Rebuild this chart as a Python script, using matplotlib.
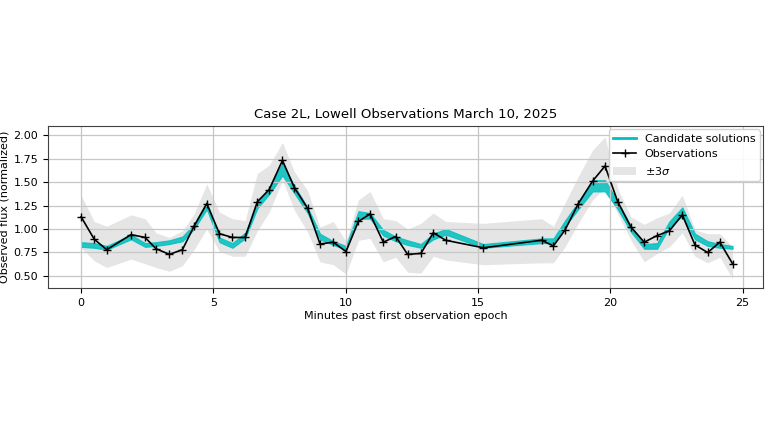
import matplotlib
matplotlib.use("Agg")
import matplotlib.pyplot as plt
from matplotlib.lines import Line2D
from matplotlib.patches import Patch

# observation epochs (minutes) and normalized flux
t_obs = [0.00, 0.50, 0.97, 1.89, 2.42, 2.83, 3.34, 3.83, 4.27, 4.75,
         5.23, 5.72, 6.20, 6.66, 7.11, 7.61, 8.06, 8.56, 9.03, 9.53,
         10.01, 10.48, 10.92, 11.42, 11.89, 12.34, 12.84, 13.31, 13.78, 15.20,
         17.40, 17.85, 18.29, 18.79, 19.33, 19.80, 20.28, 20.78, 21.28, 21.77,
         22.23, 22.72, 23.20, 23.68, 24.14, 24.62]
flux_obs = [1.13, 0.89, 0.78, 0.94, 0.91, 0.79, 0.73, 0.78, 1.03, 1.27,
            0.95, 0.91, 0.91, 1.29, 1.42, 1.73, 1.44, 1.22, 0.84, 0.86,
            0.76, 1.08, 1.16, 0.86, 0.92, 0.73, 0.74, 0.96, 0.88, 0.80,
            0.88, 0.82, 0.99, 1.27, 1.51, 1.67, 1.29, 1.02, 0.86, 0.93,
            0.98, 1.15, 0.83, 0.75, 0.86, 0.63]

# +/- 3 sigma envelope
band_hi = [1.36, 1.08, 1.03, 1.15, 1.11, 0.96, 0.91, 0.98, 1.16, 1.48,
           1.18, 1.11, 1.09, 1.59, 1.68, 1.92, 1.61, 1.41, 1.02, 1.08,
           0.87, 1.31, 1.40, 1.11, 1.09, 1.00, 1.06, 1.17, 1.08, 1.06,
           1.11, 1.03, 1.28, 1.56, 1.84, 1.98, 1.43, 1.13, 1.05, 1.12,
           1.17, 1.36, 0.99, 0.95, 0.95, 0.81]
band_lo = [0.80, 0.66, 0.59, 0.68, 0.63, 0.59, 0.55, 0.61, 0.78, 1.00,
           0.76, 0.71, 0.71, 0.98, 1.18, 1.52, 1.20, 0.97, 0.65, 0.62,
           0.52, 0.88, 0.90, 0.65, 0.70, 0.54, 0.53, 0.71, 0.67, 0.62,
           0.64, 0.64, 0.81, 1.06, 1.31, 1.44, 1.16, 0.88, 0.65, 0.74,
           0.81, 0.96, 0.71, 0.64, 0.70, 0.47]

# spread of the candidate model solutions
cand_lo = [0.81, 0.80, 0.78, 0.89, 0.81, 0.82, 0.84, 0.87, 1.00, 1.21,
           0.86, 0.80, 0.90, 1.22, 1.37, 1.57, 1.38, 1.17, 0.89, 0.83,
           0.78, 1.11, 1.11, 0.93, 0.87, 0.83, 0.80, 0.89, 0.94, 0.80,
           0.85, 0.85, 1.03, 1.21, 1.40, 1.40, 1.21, 0.97, 0.79, 0.79,
           1.02, 1.14, 0.89, 0.82, 0.80, 0.79]
cand_hi = [0.86, 0.85, 0.82, 0.94, 0.85, 0.86, 0.88, 0.92, 1.05, 1.29,
           0.91, 0.85, 0.96, 1.28, 1.44, 1.70, 1.46, 1.23, 0.95, 0.87,
           0.82, 1.19, 1.17, 0.99, 0.92, 0.88, 0.84, 0.95, 1.00, 0.84,
           0.90, 0.90, 1.09, 1.29, 1.52, 1.52, 1.29, 1.03, 0.84, 0.85,
           1.08, 1.23, 0.95, 0.87, 0.84, 0.82]

fig = plt.figure(figsize=(7.68, 4.32), dpi=100)
ax = fig.add_axes([0.0625, 0.3333, 0.931, 0.375])

ax.fill_between(t_obs, band_lo, band_hi, color="0.86", alpha=0.7, lw=0)
ax.fill_between(t_obs, cand_lo, cand_hi, color="c", alpha=0.85, lw=0.8, edgecolor="c")
ax.plot(t_obs, flux_obs, color="k", lw=1.2, marker="+", ms=5.5, mew=1.0)

ax.set_xlim(-1.25, 25.77)
ax.set_ylim(0.372, 2.096)
ax.set_yticks([0.5, 0.75, 1.0, 1.25, 1.5, 1.75, 2.0])
ax.set_xticks([0, 5, 10, 15, 20, 25])
ax.grid(True, color="0.78", lw=0.9)
ax.tick_params(labelsize=8)
for s in ax.spines.values():
    s.set_color("0.25")

ax.set_xlabel("Minutes past first observation epoch", fontsize=8, labelpad=2)
ax.set_ylabel("Observed flux (normalized)", fontsize=8, labelpad=3)
ax.set_title("Case 2L, Lowell Observations March 10, 2025", fontsize=9.5, pad=6)

handles = [Line2D([], [], color="c", lw=2),
           Line2D([], [], color="k", lw=1.2, marker="+", ms=5.5),
           Patch(color="0.86", alpha=0.7, lw=0)]
ax.legend(handles, ["Candidate solutions", "Observations", r"$\pm3\sigma$"],
          loc="upper right", fontsize=8, framealpha=0.9, borderaxespad=0.3)

fig.savefig("out.png", dpi=100)
